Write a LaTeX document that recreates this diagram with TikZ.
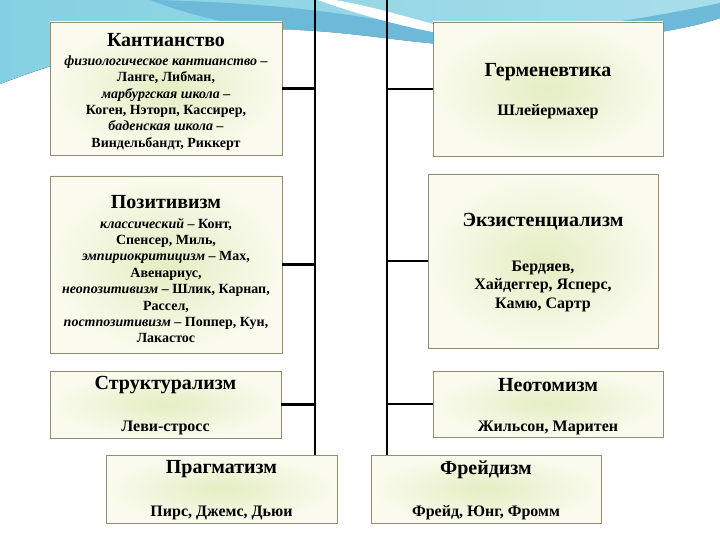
\documentclass[tikz,border=0pt]{standalone}
\usepackage{fontspec}
\setmainfont{Liberation Serif}
\usetikzlibrary{positioning}

\definecolor{boxedge}{HTML}{8E8E70}
\definecolor{boxin}{HTML}{E4EDC2}
\definecolor{boxout}{HTML}{FAFBEE}
\definecolor{skyA}{HTML}{84D0E2}
\definecolor{skyB}{HTML}{A8DEEA}
\definecolor{waveblue}{HTML}{6DB9DA}

\begin{document}
\begin{tikzpicture}[x=1pt, y=-1pt,
    box/.style={rectangle, draw=boxedge, line width=0.8pt, inner color=boxin, outer color=boxout, inner sep=0pt},
    title/.style={font=\fontsize{20}{23}\selectfont\bfseries},
    names/.style={align=center, font=\fontsize{14}{16.4}\selectfont\bfseries},
    namesbig/.style={align=center, font=\fontsize{16}{18.5}\selectfont\bfseries},
    spine/.style={line width=2pt},
    link/.style={line width=2.5pt}
]
\useasboundingbox (0,0) rectangle (720,540);

% slide background
\fill[left color=skyA, right color=skyB] (0,0) -- (0,84) .. controls (100,45) and (200,28) .. (300,30) .. controls (380,34) and (440,50) .. (520,46) .. controls (600,42) and (680,32) .. (720,18) -- (720,0) -- cycle;
\fill[waveblue] (150,0) .. controls (250,2) and (340,10) .. (433,30) .. controls (520,40) and (640,20) .. (720,3) -- (720,18) .. controls (680,32) and (600,42) .. (520,46) .. controls (440,50) and (380,34) .. (300,30) .. controls (240,29) and (190,15) .. (150,0) -- cycle;
\fill[white] (335,0) .. controls (370,6) and (400,15) .. (433,24) .. controls (480,34) and (540,30) .. (580,26) .. controls (540,36) and (480,38) .. (433,32) .. controls (400,26) and (350,12) .. (318,0) -- cycle;

% boxes
\node[box, minimum width=232pt, minimum height=133pt] (kant) at (166,88.5) {};
\node[box, minimum width=230pt, minimum height=134pt] (herm) at (548,89) {};
\node[box, minimum width=232pt, minimum height=177pt] (pos) at (166,264.5) {};
\node[box, minimum width=230pt, minimum height=174pt] (exist) at (543,261) {};
\node[box, minimum width=231pt, minimum height=67pt] (struct) at (165.5,404.5) {};
\node[box, minimum width=230pt, minimum height=66pt] (neo) at (548,404) {};
\node[box, minimum width=231pt, minimum height=68pt] (prag) at (221.5,489) {};
\node[box, minimum width=230pt, minimum height=68pt] (freud) at (486,489) {};

% texts
\node[title] (kantT) at (166,40) {Кантианство};
\node[names] (kantB) at (166,103) {\textit{физиологическое кантианство –}\\Ланге, Либман,\\\textit{марбургская школа –}\\Коген, Нэторп, Кассирер,\\\textit{баденская школа –}\\Виндельбандт, Риккерт};
\node[title] (hermT) at (548,72) {Герменевтика};
\node[namesbig] (hermB) at (548,112) {Шлейермахер};
\node[title] (posT) at (166,202) {Позитивизм};
\node[names] (posB) at (166,280.5) {\textit{классический} – Конт,\\Спенсер, Миль,\\\textit{эмпириокритицизм} – Мах,\\Авенариус,\\\textit{неопозитивизм} – Шлик, Карнап,\\Рассел,\\\textit{постпозитивизм} – Поппер, Кун,\\Лакастос};
\node[title] (existT) at (543,222) {Экзистенциализм};
\node[namesbig] (existB) at (543,286) {Бердяев,\\Хайдеггер, Ясперс,\\Камю, Сартр};
\node[title] (structT) at (165.5,385) {Структурализм};
\node[namesbig] (structB) at (165.5,428) {Леви-стросс};
\node[title] (neoT) at (548,385) {Неотомизм};
\node[namesbig] (neoB) at (548,428) {Жильсон, Маритен};
\node[title] (pragT) at (221.5,469) {Прагматизм};
\node[namesbig] (pragB) at (221.5,513) {Пирс, Джемс, Дьюи};
\node[title] (freudT) at (486,470) {Фрейдизм};
\node[namesbig] (freudB) at (486,513) {Фрейд, Юнг, Фромм};

% spines and links
\coordinate (lspine) at (315,0);
\coordinate (rspine) at (387,0);
\draw[spine] (lspine) -- (lspine |- prag.north);
\draw[spine] (rspine) -- (rspine |- freud.north);
\draw[link] (kant.east) -- (kant.east -| lspine);
\draw[link] (pos.east) -- (pos.east -| lspine);
\draw[link] (struct.east) -- (struct.east -| lspine);
\draw[link] (herm.west) -- (herm.west -| rspine);
\draw[link] (exist.west) -- (exist.west -| rspine);
\draw[link] (neo.west) -- (neo.west -| rspine);
\end{tikzpicture}
\end{document}
